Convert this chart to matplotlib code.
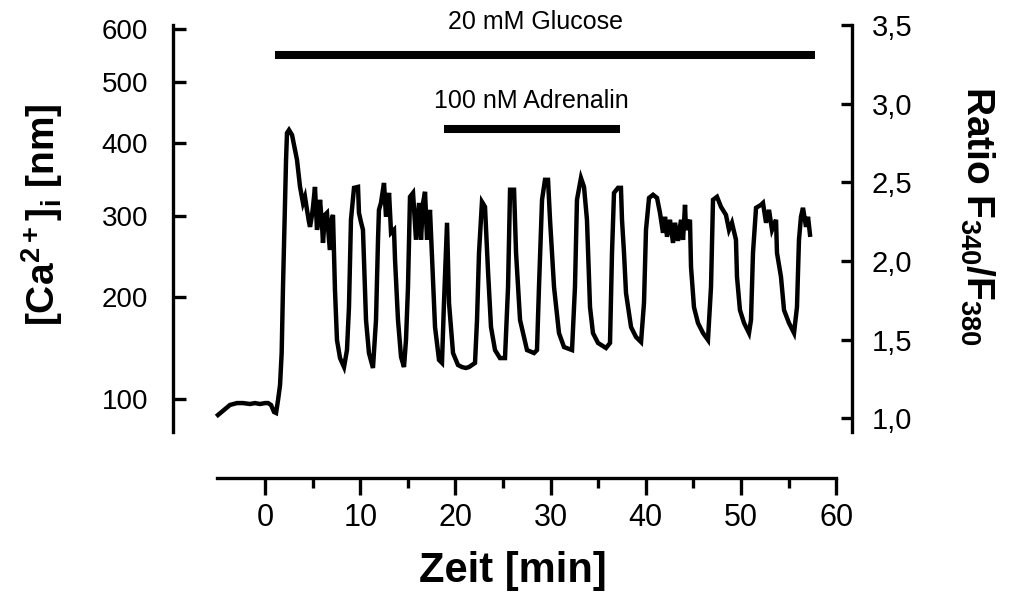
import matplotlib
matplotlib.use("Agg")
import matplotlib.pyplot as plt

plt.rcParams['font.family'] = ['Liberation Sans', 'DejaVu Sans']
plt.rcParams['mathtext.fontset'] = 'custom'
plt.rcParams['mathtext.rm'] = 'Liberation Sans'
plt.rcParams['mathtext.bf'] = 'Liberation Sans:bold'

# Fura-2 Messung: Zeit (min) und Ratio F340/F380
time_min = [
    -4.94, -4.31, -3.68, -2.94, -2.31, -1.58, -1.05, -0.53, 0.00, 0.32, 0.63, 0.95,
    1.16, 1.37, 1.58, 1.75, 1.89, 2.10, 2.21, 2.31, 2.52, 2.84, 3.15, 3.36, 3.68,
    3.99, 4.20, 4.41, 4.62, 4.73, 4.94, 5.04, 5.25, 5.46, 5.67, 5.78, 5.99, 6.09,
    6.30, 6.51, 6.72, 6.83, 6.93, 7.14, 7.35, 7.56, 7.88, 8.30, 8.61, 8.82, 9.03,
    9.35, 9.77, 9.87, 10.08, 10.29, 10.61, 10.92, 11.34, 11.66, 11.87, 11.97, 12.18,
    12.50, 12.71, 13.03, 13.24, 13.55, 13.66, 13.97, 14.29, 14.60, 14.81, 15.02,
    15.23, 15.55, 15.86, 16.18, 16.39, 16.60, 16.81, 17.02, 17.33, 17.54, 17.86,
    18.28, 18.59, 18.80, 19.01, 19.12, 19.22, 19.33, 19.75, 20.27, 20.69, 21.11,
    21.43, 22.06, 22.27, 22.48, 22.79, 23.11, 23.42, 23.74, 24.16, 24.68, 25.21,
    25.53, 25.74, 26.16, 26.37, 26.79, 27.52, 28.26, 28.57, 28.78, 29.10, 29.41,
    29.73, 29.94, 30.36, 30.88, 31.41, 32.25, 32.56, 32.77, 33.19, 33.51, 33.82,
    33.93, 34.14, 34.45, 34.98, 35.82, 36.24, 36.45, 36.66, 37.08, 37.39, 37.50,
    37.71, 37.92, 38.45, 38.97, 39.50, 39.81, 40.02, 40.34, 40.76, 41.18, 41.49,
    41.81, 42.02, 42.23, 42.54, 42.86, 43.07, 43.38, 43.70, 43.91, 44.12, 44.22,
    44.64, 44.75, 45.06, 45.48, 46.01, 46.53, 46.85, 47.06, 47.48, 47.90, 48.42,
    48.74, 49.05, 49.47, 49.58, 49.89, 50.32, 50.84, 51.05, 51.26, 51.58, 52.10,
    52.31, 52.63, 52.94, 53.26, 53.68, 53.78, 54.20, 54.52, 55.04, 55.57, 55.88,
    56.09, 56.30, 56.51, 56.83, 57.04, 57.25,
]
ratio = [
    1.021, 1.053, 1.085, 1.097, 1.097, 1.091, 1.097, 1.091, 1.097, 1.097, 1.085, 1.040,
    1.034, 1.116, 1.212, 1.415, 1.835, 2.369, 2.643, 2.814, 2.833, 2.801, 2.706, 2.643, 2.471,
    2.369, 2.408, 2.325, 2.248, 2.217, 2.293, 2.344, 2.471, 2.198, 2.273, 2.389, 2.229, 2.115,
    2.293, 2.306, 2.134, 2.070, 2.248, 2.293, 1.816, 1.498, 1.383, 1.326, 1.434, 1.706, 2.262,
    2.465, 2.471, 2.306, 2.248, 2.198, 1.625, 1.415, 1.320, 1.625, 2.134, 2.325, 2.369,
    2.496, 2.281, 2.433, 2.179, 2.198, 2.006, 1.625, 1.390, 1.326, 1.498, 1.835,
    2.408, 2.433, 2.135, 2.369, 2.135, 2.369, 2.440, 2.135, 2.325, 2.025, 1.580,
    1.371, 1.352, 1.733, 2.070, 2.243, 2.006, 1.733, 1.415, 1.339, 1.326, 1.320,
    1.326, 1.352, 1.625, 2.052, 2.376, 2.344, 1.943, 1.580, 1.434, 1.383, 1.383,
    1.835, 2.453, 2.453, 2.052, 1.625, 1.434, 1.415, 1.434, 1.835, 2.389, 2.516,
    2.516, 2.262, 1.835, 1.542, 1.453, 1.434, 1.835, 2.389, 2.528, 2.471, 2.262,
    2.070, 1.707, 1.542, 1.479, 1.447, 1.479, 2.052, 2.433, 2.465, 2.465, 2.262,
    2.052, 1.797, 1.580, 1.517, 1.485, 1.733, 2.198, 2.401, 2.421, 2.401, 2.306,
    2.179, 2.281, 2.154, 2.262, 2.115, 2.243, 2.128, 2.262, 2.134, 2.357, 2.198,
    2.262, 1.962, 1.707, 1.606, 1.542, 1.498, 1.835, 2.389, 2.408, 2.344, 2.293,
    2.198, 2.243, 2.135, 1.899, 1.688, 1.606, 1.542, 1.625, 2.052, 2.338, 2.357,
    2.369, 2.243, 2.325, 2.198, 2.262, 2.052, 1.899, 1.688, 1.606, 1.542, 1.707,
    2.135, 2.281, 2.338, 2.217, 2.281, 2.167,
]

# Behandlungsbalken: (Beginn, Ende) in min und Hoehe in Ratio-Einheiten
glucose_span = [1.05, 57.8]
glucose_level = 3.31
adrenalin_span = [18.8, 37.3]
adrenalin_level = 2.84

# Achsenbeschriftungen
x_ticks = [0, 10, 20, 30, 40, 50, 60]
x_minor = [5, 15, 25, 35, 45, 55]
ratio_ticks = [1.0, 1.5, 2.0, 2.5, 3.0, 3.5]
ratio_labels = ['1,0', '1,5', '2,0', '2,5', '3,0', '3,5']
ca_ticks = [100, 200, 300, 400, 500, 600]
ca_tick_ratio = [1.121, 1.773, 2.288, 2.748, 3.140, 3.475]

fig = plt.figure(figsize=(10.09, 5.94), dpi=100)
ax = fig.add_axes([0.1715, 0.2727, 0.6729, 0.6852])
ax2 = ax.twinx()

ax.plot(time_min, ratio, color='black', linewidth=3.2, solid_joinstyle='miter')
ax.plot(glucose_span, [glucose_level] * 2, color='black', linewidth=5.8,
        solid_capstyle='butt')
ax.plot(adrenalin_span, [adrenalin_level] * 2, color='black', linewidth=5.8,
        solid_capstyle='butt')
ax.text(28.4, 3.52, '20 mM Glucose', ha='center', va='center', fontsize=18)
ax.text(28.0, 3.02, '100 nM Adrenalin', ha='center', va='center', fontsize=18)

ax.set_xlim(-9.66, 61.66)
ax.set_ylim(0.913, 3.5)
ax2.set_ylim(0.913, 3.5)

lw = 2.4
for a in (ax, ax2):
    for s in a.spines.values():
        s.set_visible(False)
        s.set_linewidth(lw)
ax.spines['left'].set_visible(True)
ax.spines['bottom'].set_visible(True)
ax.spines['bottom'].set_position(('outward', 33))
ax.spines['bottom'].set_bounds(-5, 60)
ax2.spines['right'].set_visible(True)

ax.set_xticks(x_ticks)
ax.set_xticks(x_minor, minor=True)
ax.tick_params(axis='x', which='major', direction='out', length=12, width=lw,
               labelsize=22, pad=6)
ax.tick_params(axis='x', which='minor', direction='out', length=7, width=lw)

ax.set_yticks(ca_tick_ratio)
ax.set_yticklabels([str(v) for v in ca_ticks])
ax.tick_params(axis='y', direction='in', length=9.5, width=lw, labelsize=20, pad=18)

ax2.set_yticks(ratio_ticks)
ax2.set_yticklabels(ratio_labels)
ax2.tick_params(axis='y', direction='in', length=8, width=lw, labelsize=21, pad=14)

ax.set_xlabel('Zeit [min]', fontsize=30, fontweight='bold', labelpad=13)
fig.text(0.042, 0.638, r'[Ca$^{\mathbf{2+}}$]$_{\mathbf{i}}$ [nm]', rotation=90,
         ha='center', va='center', fontsize=28, fontweight='bold')
fig.text(0.968, 0.636, r'Ratio F$_{\mathbf{340}}$/F$_{\mathbf{380}}$', rotation=270,
         ha='center', va='center', fontsize=28, fontweight='bold')

fig.savefig('out.png', dpi=100)
